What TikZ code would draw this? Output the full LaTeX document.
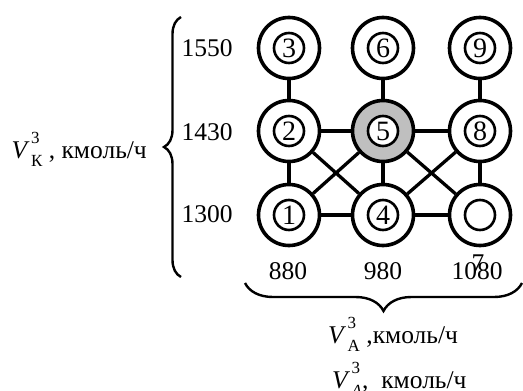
\documentclass[tikz,border=0pt]{standalone}
\usepackage{fontspec}
\setmainfont{Liberation Serif}
\usetikzlibrary{decorations.pathreplacing}
\newcommand{\Vsym}[2]{\textit{V}\kern1.5pt\rlap{\raisebox{0.55em}{\fontsize{17}{17}\selectfont #2}}\raisebox{-0.32em}{\fontsize{17}{17}\selectfont #1}}
\tikzset{
  outer/.style={circle, draw, line width=3.6pt, minimum size=61pt, inner sep=0pt, fill=white},
  inner/.style={circle, draw, line width=2.6pt, minimum size=30pt, inner sep=0pt, fill=white, font=\fontsize{28}{28}\selectfont},
  edge/.style={line width=3.3pt},
  axisnum/.style={font=\fontsize{25.5}{25.5}\selectfont, inner sep=0pt},
  lbl/.style={font=\fontsize{25.5}{25.5}\selectfont, inner sep=0pt},
  bracestyle/.style={line width=2.4pt, decorate}
}
\begin{document}
\begin{tikzpicture}[x=1pt,y=-1pt]
\useasboundingbox (0,0) rectangle (523,391);
% outer circles
\node[outer] (n3) at (289,48) {};
\node[outer] (n6) at (383,48) {};
\node[outer] (n9) at (480,48) {};
\node[outer] (n2) at (289,131) {};
\node[outer, fill=black!25] (n5) at (383,131) {};
\node[outer] (n8) at (480,131) {};
\node[outer] (n1) at (289,215) {};
\node[outer] (n4) at (383,215) {};
\node[outer] (n7) at (480,215) {};
% inner circles
\node[inner] (i3) at (n3) {3};
\node[inner] (i6) at (n6) {6};
\node[inner] (i9) at (n9) {9};
\node[inner] (i2) at (n2) {2};
\node[inner] (i5) at (n5) {5};
\node[inner] (i8) at (n8) {8};
\node[inner] (i1) at (n1) {1};
\node[inner] (i4) at (n4) {4};
\node[inner] (i7) at (n7) {};
% edges
\draw[edge] (n3) -- (n2);
\draw[edge] (n6) -- (n5);
\draw[edge] (n9) -- (n8);
\draw[edge] (n2) -- (n5);
\draw[edge] (n5) -- (n8);
\draw[edge] (n2) -- (n1);
\draw[edge] (n5) -- (n4);
\draw[edge] (n8) -- (n7);
\draw[edge] (n1) -- (n4);
\draw[edge] (n4) -- (n7);
\draw[edge] (n2) -- (n4);
\draw[edge] (n5) -- (n1);
\draw[edge] (n5) -- (n7);
\draw[edge] (n8) -- (n4);
% axis numbers
\node[axisnum] (y1550) at (207,48) {1550};
\node[axisnum] (y1430) at (207,132.5) {1430};
\node[axisnum] (y1300) at (207,214) {1300};
\node[axisnum] (x880) at (288,271) {880};
\node[axisnum] (x980) at (383,271) {980};
\node[axisnum] (x1080) at (477,271) {1080};
\node[axisnum] (lab7) at (478,263) {7};
% braces
\coordinate (lb1) at (181,277);
\coordinate (lb2) at (181,17);
\draw[bracestyle, decoration={brace, amplitude=17pt}] (lb1) -- (lb2);
\coordinate (bb1) at (522,283);
\coordinate (bb2) at (245,283);
\draw[bracestyle, decoration={brace, amplitude=28pt}] (bb1) -- (bb2);
% labels
\node[lbl, anchor=base east] (vk) at (147,158) {\Vsym{К}{3} , кмоль/ч};
\node[lbl, anchor=base west] (va) at (328,343) {\Vsym{А}{3} ,кмоль/ч};
\node[lbl, anchor=base west] (va2) at (332,388) {\Vsym{\textit{A}}{3},\ \ кмоль/ч};
\end{tikzpicture}
\end{document}
